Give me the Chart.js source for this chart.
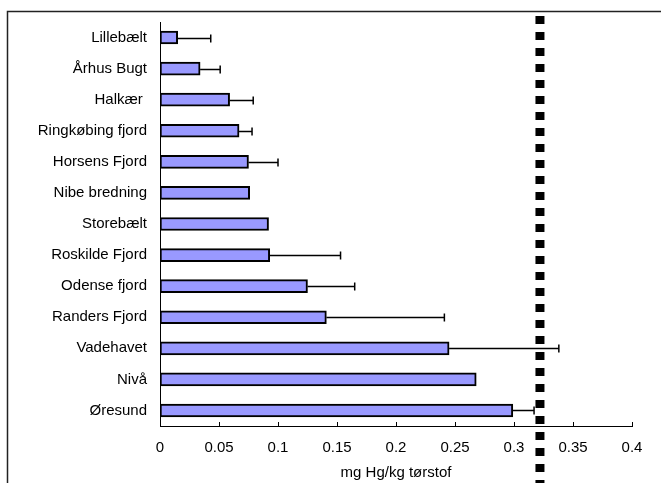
<!DOCTYPE html>
<html>
<head>
<meta charset="utf-8">
<script src="https://cdn.jsdelivr.net/npm/chart.js@4.4.0/dist/chart.umd.min.js"></script>
<style>
  html, body { margin: 0; padding: 0; background: #fff; }
  #wrap { width: 661px; height: 483px; }
</style>
</head>
<body>
<div id="wrap"><canvas id="c" width="661" height="483"></canvas></div>
<script>
// Mercury content per location (mg Hg/kg dry matter)
const categories = [
  'Lillebælt', 'Århus Bugt', 'Halkær ', 'Ringkøbing fjord', 'Horsens Fjord',
  'Nibe bredning', 'Storebælt', 'Roskilde Fjord', 'Odense fjord',
  'Randers Fjord', 'Vadehavet', 'Nivå', 'Øresund'
];
const means = [0.015, 0.034, 0.059, 0.067, 0.075, 0.076, 0.092, 0.093, 0.125, 0.141, 0.245, 0.268, 0.299];
// Upper error (added to the mean); null where no error bar is shown
const errors = [0.028, 0.017, 0.020, 0.011, 0.025, null, null, 0.060, 0.040, 0.100, 0.093, null, 0.018];
const xTicks = [0, 0.05, 0.1, 0.15, 0.2, 0.25, 0.3, 0.35, 0.4];
const limitValue = 0.322;
const axisTitle = 'mg Hg/kg tørstof';

const FONT = '"Liberation Sans", Arial, Helvetica, sans-serif';

// Outer frame of the chart object
const framePlugin = {
  id: 'frame',
  beforeDraw(chart) {
    const ctx = chart.ctx;
    ctx.save();
    ctx.fillStyle = '#fff';
    ctx.fillRect(0, 0, chart.width, chart.height);
    ctx.strokeStyle = '#222';
    ctx.lineWidth = 1.5;
    ctx.beginPath();
    ctx.moveTo(7.5, chart.height);
    ctx.lineTo(7.5, 11.5);
    ctx.lineTo(chart.width, 11.5);
    ctx.stroke();
    ctx.restore();
  }
};

// Inward tick marks on the value axis
const tickPlugin = {
  id: 'innerTicks',
  afterDraw(chart) {
    const x = chart.scales.x;
    const ctx = chart.ctx;
    const yb = chart.chartArea.bottom;
    ctx.save();
    ctx.strokeStyle = '#000';
    ctx.lineWidth = 1;
    ctx.beginPath();
    xTicks.forEach(v => {
      const px = Math.round(x.getPixelForValue(v)) + 0.5;
      ctx.moveTo(px, yb);
      ctx.lineTo(px, yb - 4);
    });
    ctx.stroke();
    ctx.restore();
  }
};

// One-sided error bars at the end of each bar
const errorBarPlugin = {
  id: 'errorBars',
  afterDatasetsDraw(chart) {
    const x = chart.scales.x;
    const meta = chart.getDatasetMeta(0);
    const ctx = chart.ctx;
    ctx.save();
    ctx.strokeStyle = '#000';
    ctx.lineWidth = 1.5;
    meta.data.forEach((bar, i) => {
      if (errors[i] == null) return;
      const x0 = x.getPixelForValue(means[i]);
      const x1 = x.getPixelForValue(means[i] + errors[i]);
      const y = Math.round(bar.y) + 0.5;
      ctx.beginPath();
      ctx.moveTo(x0, y);
      ctx.lineTo(x1, y);
      ctx.moveTo(x1, y - 4);
      ctx.lineTo(x1, y + 4);
      ctx.stroke();
    });
    ctx.restore();
  }
};

// Dotted limit line across the full height
const limitPlugin = {
  id: 'limitLine',
  afterDraw(chart) {
    const x = chart.scales.x;
    const ctx = chart.ctx;
    const px = x.getPixelForValue(limitValue);
    ctx.save();
    ctx.strokeStyle = '#000';
    ctx.lineWidth = 9;
    ctx.setLineDash([8, 8]);
    ctx.beginPath();
    ctx.moveTo(px, 16);
    ctx.lineTo(px, chart.height);
    ctx.stroke();
    ctx.restore();
  }
};

new Chart(document.getElementById('c'), {
  type: 'bar',
  data: {
    labels: categories,
    datasets: [{
      data: means,
      backgroundColor: '#9999FF',
      borderColor: '#000',
      borderWidth: 2,
      borderSkipped: false,
      barThickness: 13
    }]
  },
  options: {
    indexAxis: 'y',
    responsive: false,
    animation: false,
    events: [],
    layout: { padding: { left: 0, top: 16, right: 29, bottom: 0 } },
    plugins: { legend: { display: false }, tooltip: { enabled: false } },
    scales: {
      x: {
        type: 'linear',
        min: 0,
        max: 0.4,
        afterBuildTicks(scale) { scale.ticks = xTicks.map(v => ({ value: v })); },
        afterFit(scale) { scale.height = 57; },
        grid: { display: false, drawTicks: false },
        border: { display: true, color: '#000', width: 1 },
        ticks: {
          color: '#000',
          padding: 13,
          maxRotation: 0,
          font: { family: FONT, size: 15 },
          callback: v => String(v)
        },
        title: {
          display: true,
          text: axisTitle,
          color: '#000',
          font: { family: FONT, size: 15 },
          padding: { top: 0, bottom: 1 }
        }
      },
      y: {
        afterFit(scale) { scale.width = 160; },
        grid: { display: false, drawTicks: false },
        border: { display: true, color: '#000', width: 1 },
        ticks: {
          color: '#000',
          padding: 13,
          font: { family: FONT, size: 15 }
        }
      }
    }
  },
  plugins: [framePlugin, errorBarPlugin, tickPlugin, limitPlugin]
});
</script>
</body>
</html>
